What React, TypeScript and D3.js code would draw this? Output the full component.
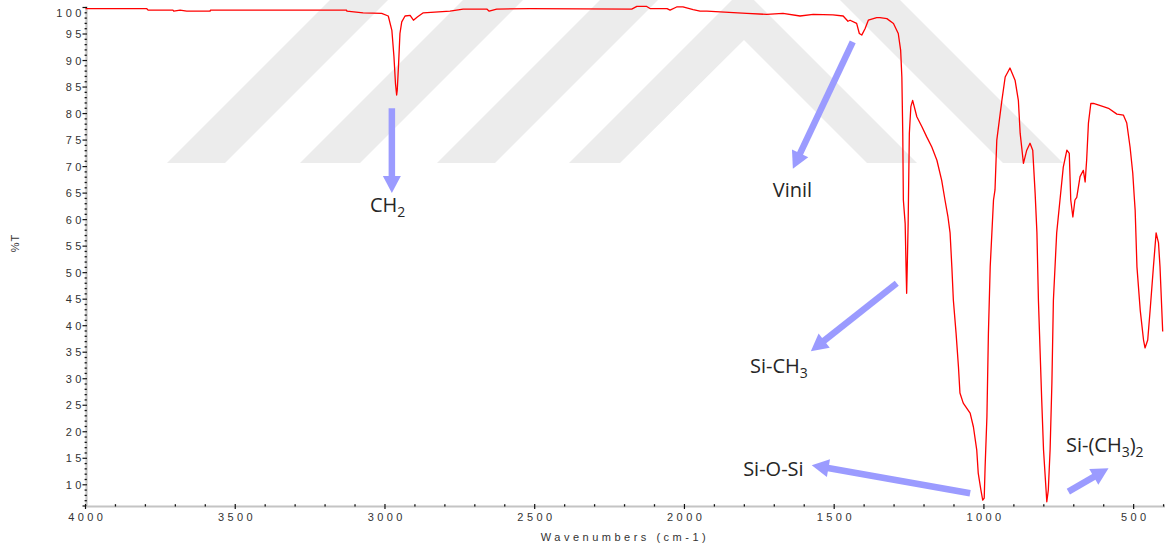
import React from 'react';
import * as d3 from 'd3';

// FTIR spectrum: wavenumber (cm-1) and transmittance (%T)
const wavenumbers = [4000, 3796, 3791, 3708, 3705, 3684, 3662, 3584, 3583, 3128, 3127, 3073, 3011, 2989, 2977, 2970, 2965, 2961, 2959, 2955, 2950, 2944, 2933, 2916, 2905, 2892, 2872, 2783, 2739, 2660, 2652, 2627, 2516, 2176, 2159, 2126, 2115, 2058, 2048, 2026, 2005, 1971, 1948, 1925, 1792, 1725, 1671, 1614, 1570, 1504, 1470, 1454, 1447, 1425, 1416, 1408, 1397, 1386, 1358, 1347, 1324, 1302, 1286, 1278, 1274, 1271, 1269, 1263, 1260, 1258, 1256, 1253, 1252, 1249, 1244, 1238, 1224, 1207, 1191, 1174, 1157, 1141, 1130, 1120, 1113, 1107, 1102, 1093, 1085, 1080, 1069, 1046, 1035, 1024, 1019, 1010, 1004, 999, 996, 990, 985, 979, 968, 963, 957, 940, 929, 913, 896, 885, 879, 868, 857, 846, 837, 829, 823, 818, 807, 801, 790, 785, 779, 773, 768, 757, 746, 735, 723, 715, 710, 703, 696, 690, 679, 668, 662, 657, 651, 643, 634, 601, 584, 556, 534, 523, 512, 503, 498, 495, 489, 478, 467, 462, 453, 445, 434, 425, 417, 412, 403];

const transmittance = [99.8, 99.8, 99.5, 99.5, 99.3, 99.5, 99.3, 99.3, 99.5, 99.5, 99.3, 99.0, 98.9, 98.4, 95.7, 90.7, 85.7, 83.5, 84.4, 88.8, 95.1, 97.3, 98.4, 98.5, 97.6, 98.2, 99.0, 99.3, 99.7, 99.7, 99.3, 99.7, 99.8, 99.7, 100.2, 100.2, 99.8, 99.8, 99.5, 100.1, 100.1, 99.6, 99.3, 99.3, 98.9, 98.7, 98.9, 98.4, 98.7, 98.6, 98.4, 97.4, 97.6, 97.0, 95.1, 94.8, 96.0, 97.6, 98.1, 98.1, 97.9, 97.0, 95.1, 91.9, 86.9, 76.3, 63.7, 59.3, 51.1, 46.1, 51.1, 59.3, 63.7, 76.3, 81.3, 82.5, 79.4, 77.5, 75.6, 73.7, 71.2, 67.4, 63.7, 60.5, 57.5, 51.0, 44.8, 38.6, 32.2, 27.3, 25.4, 23.5, 20.9, 16.6, 12.2, 9.0, 7.1, 7.5, 13.4, 22.8, 38.6, 51.1, 63.7, 65.6, 75.0, 82.5, 86.9, 88.6, 86.3, 82.5, 76.3, 70.6, 73.1, 74.4, 73.1, 65.0, 57.5, 44.8, 26.0, 16.6, 6.8, 9.0, 16.6, 29.2, 44.8, 57.5, 63.7, 69.9, 73.1, 72.5, 63.7, 60.5, 63.7, 64.2, 68.1, 69.3, 67.1, 71.2, 78.2, 81.9, 81.9, 81.3, 81.0, 79.9, 79.7, 78.2, 73.7, 68.8, 64.3, 61.8, 51.1, 42.9, 37.3, 35.8, 37.3, 42.9, 51.1, 57.5, 55.6, 51.1, 38.9];

const xMajorTicks = [4000, 3500, 3000, 2500, 2000, 1500, 1000, 500];
const yMajorTicks = [100, 95, 90, 85, 80, 75, 70, 65, 60, 55, 50, 45, 40, 35, 30, 25, 20, 15, 10];

// Band assignments: label pieces (sub = subscript), arrow tail/head and label origin in (cm-1, %T)
const bandLabels = [
  { parts: [{ t: 'CH' }, { t: '2', sub: true }], from: [2977, 81.0], to: [2977, 65.0], text: [3050, 61.4] },
  { parts: [{ t: 'Vinil' }], from: [1438, 93.5], to: [1638, 69.6], text: [1705, 64.3] },
  { parts: [{ t: 'Si-CH' }, { t: '3', sub: true }], from: [1291, 48.0], to: [1578, 35.2], text: [1781, 31.0] },
  { parts: [{ t: 'Si-O-Si' }], from: [1046, 8.4], to: [1575, 13.7], text: [1804, 11.7] },
  { parts: [{ t: 'Si-(CH' }, { t: '3', sub: true }, { t: ')' }, { t: '2', sub: true }], from: [718, 8.7], to: [584, 13.1], text: [726, 16.2] },
];

const W = 1165;
const H = 548;

const x = d3.scaleLinear().domain([4000, 400]).range([85.5, 1163.6]);
const y = d3.scaleLinear().domain([6, 100]).range([506, 7.5]);

const axisGrey = '#c4c4c4';
const tickFont = "'Liberation Sans', Arial, sans-serif";
const arrowColor = '#9b9bff';

function Arrow({ from, to }: { from: number[]; to: number[] }) {
  const x0 = x(from[0]);
  const y0 = y(from[1]);
  const x1 = x(to[0]);
  const y1 = y(to[1]);
  const dx = x1 - x0;
  const dy = y1 - y0;
  const len = Math.hypot(dx, dy);
  const ux = dx / len;
  const uy = dy / len;
  const headLen = 17;
  const headHalf = 9;
  const bx = x1 - ux * headLen;
  const by = y1 - uy * headLen;
  const px = -uy;
  const py = ux;
  const head = `M${x1},${y1}L${bx + px * headHalf},${by + py * headHalf}L${bx - px * headHalf},${by - py * headHalf}Z`;
  return (
    <g>
      <line x1={x0} y1={y0} x2={bx + ux * 2} y2={by + uy * 2} stroke={arrowColor} strokeWidth={6.5} />
      <path d={head} fill={arrowColor} />
    </g>
  );
}

export default function App() {
  const points: [number, number][] = wavenumbers.map((w, i) => [w, transmittance[i]]);
  const line = d3
    .line<[number, number]>()
    .x((d) => x(d[0]))
    .y((d) => y(d[1]));

  const xMinor = d3.range(4000, 399, -100).filter((v) => v % 500 !== 0);
  const yMinor = d3.range(7, 100, 1).filter((v) => v % 5 !== 0);

  // faint striped emblem in the background
  const bandBottom = 163;
  const stripes = [
    [167, 225],
    [300, 360],
    [437, 495],
  ];
  const chevron = `M569,${bandBottom}L${569 + bandBottom},0L${917 - bandBottom},0L917,${bandBottom}L867,${bandBottom}L744,40L620,${bandBottom}Z`;
  const backStripe = `M840,0L900,0L${900 + bandBottom},${bandBottom}L${840 + bandBottom},${bandBottom}Z`;

  return (
    <svg
      width={W}
      height={H}
      viewBox={`0 0 ${W} ${H}`}
      style={{ position: 'absolute', left: 0, top: 0, background: '#fff' }}
    >
      <g fill="#ececec">
        {stripes.map(([a, b], i) => (
          <path key={i} d={`M${a},${bandBottom}L${a + bandBottom},0L${b + bandBottom},0L${b},${bandBottom}Z`} />
        ))}
        <path d={chevron} />
        <path d={backStripe} />
      </g>

      {/* y axis */}
      <line x1={86.5} y1={6.5} x2={86.5} y2={507} stroke={axisGrey} strokeWidth={2.2} />
      {yMinor.map((v) => (
        <line key={v} x1={84.6} x2={86.8} y1={y(v)} y2={y(v)} stroke="#111" strokeWidth={1.3} />
      ))}
      {[...yMajorTicks, 6].map((v) => (
        <line key={v} x1={82.5} x2={87} y1={y(v)} y2={y(v)} stroke="#111" strokeWidth={1.2} />
      ))}
      {yMajorTicks.map((v) => (
        <text
          key={v}
          x={81.5 + 3.4}
          y={Math.max(y(v) + 4, 17.3)}
          textAnchor="end"
          fontFamily={tickFont}
          fontSize={11}
          fill="#333"
          style={{ letterSpacing: '3.4px' }}
        >
          {v}
        </text>
      ))}
      <text
        transform="translate(19,243) rotate(-90)"
        textAnchor="middle"
        fontFamily={tickFont}
        fontSize={11}
        fill="#333"
        style={{ letterSpacing: '1px' }}
      >
        %T
      </text>

      {/* x axis */}
      <line x1={85.5} y1={506.5} x2={W} y2={506.5} stroke={axisGrey} strokeWidth={2.2} />
      {xMinor.map((v) => (
        <line key={v} x1={x(v)} x2={x(v)} y1={504.2} y2={506.5} stroke="#111" strokeWidth={1.3} />
      ))}
      {xMajorTicks.map((v) => (
        <line key={v} x1={x(v)} x2={x(v)} y1={504} y2={509} stroke="#111" strokeWidth={1.2} />
      ))}
      {xMajorTicks.map((v) => (
        <text
          key={v}
          x={x(v) + 1.7}
          y={521}
          textAnchor="middle"
          fontFamily={tickFont}
          fontSize={11}
          fill="#333"
          style={{ letterSpacing: '3.4px' }}
        >
          {v}
        </text>
      ))}
      <text
        x={625}
        y={541}
        textAnchor="middle"
        fontFamily={tickFont}
        fontSize={11}
        fill="#333"
        style={{ letterSpacing: '3.5px' }}
      >
        Wavenumbers (cm-1)
      </text>

      {/* spectrum */}
      <path d={line(points) ?? ''} fill="none" stroke="#ff0000" strokeWidth={1.3} strokeLinejoin="round" />

      {/* band assignments */}
      {bandLabels.map((b, i) => (
        <g key={i}>
          <Arrow from={b.from} to={b.to} />
          <text
            x={x(b.text[0])}
            y={y(b.text[1])}
            fontFamily="'Open Sans', 'Noto Sans', sans-serif"
            fontSize={20}
            fill="#262626"
          >
            {b.parts.map((p, j) => {
              const prevSub = j > 0 && b.parts[j - 1].sub;
              const dy = p.sub ? (prevSub ? 0 : 5) : prevSub ? -5 : 0;
              return (
                <tspan key={j} dy={dy} fontSize={p.sub ? 14 : 20}>
                  {p.t}
                </tspan>
              );
            })}
          </text>
        </g>
      ))}
    </svg>
  );
}
